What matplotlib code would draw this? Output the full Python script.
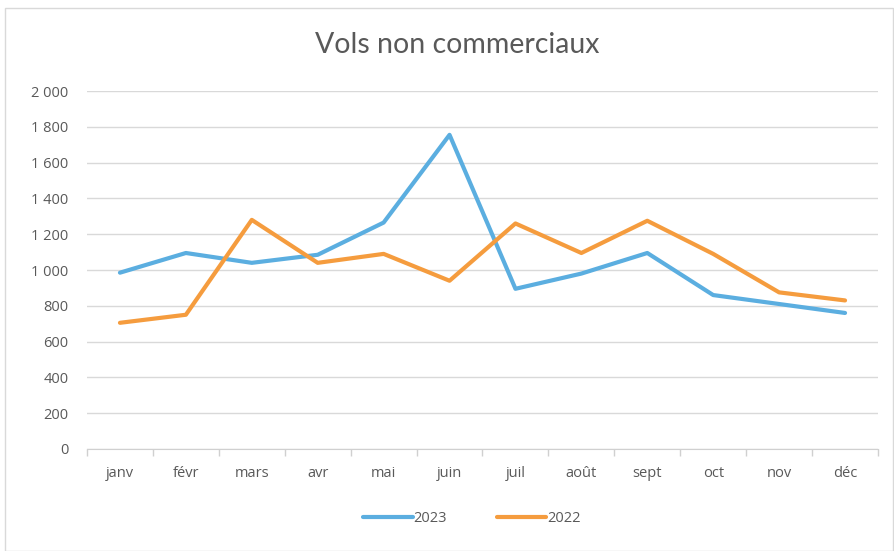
import matplotlib.pyplot as plt
from matplotlib.patches import Rectangle

plt.rcParams['font.family'] = ['Open Sans', 'DejaVu Sans']

# Data
months = ['janv', 'févr', 'mars', 'avr', 'mai', 'juin',
          'juil', 'août', 'sept', 'oct', 'nov', 'déc']
vols_2023 = [985, 1095, 1040, 1085, 1265, 1755, 895, 980, 1095, 860, 810, 760]
vols_2022 = [705, 750, 1280, 1040, 1090, 940, 1260, 1095, 1275, 1090, 875, 830]
y_ticks = [0, 200, 400, 600, 800, 1000, 1200, 1400, 1600, 1800, 2000]
y_labels = ['0', '200', '400', '600', '800', '1 000', '1 200',
            '1 400', '1 600', '1 800', '2 000']

W, H = 894, 551
fig = plt.figure(figsize=(W / 100, H / 100), dpi=100)
fig.patch.set_facecolor('white')

# outer chart border
fig.patches.append(Rectangle((5 / W, 0), (W - 6) / W, (H - 8) / H,
                             transform=fig.transFigure, fill=False,
                             edgecolor='#d9d9d9', linewidth=1))

ax = fig.add_axes([87 / W, 1 - 449 / H, (878 - 87) / W, (449 - 91) / H])

x = range(len(months))
ax.plot(x, vols_2023, color='#5BAEE0', linewidth=3, label='2023',
        solid_joinstyle='round', solid_capstyle='round')
ax.plot(x, vols_2022, color='#F59C3E', linewidth=3, label='2022',
        solid_joinstyle='round', solid_capstyle='round')

ax.set_xlim(-0.5, len(months) - 0.5)
ax.set_ylim(0, 2000)
ax.set_yticks(y_ticks)
ax.set_yticklabels(y_labels)
ax.set_xticks(list(x))
ax.set_xticklabels(months)

# category boundary ticks
ax.set_xticks([i - 0.5 for i in range(len(months) + 1)], minor=True)
ax.tick_params(axis='x', which='major', length=0, pad=12)
ax.tick_params(axis='x', which='minor', length=5, color='#d0d0d0', width=1)
ax.tick_params(axis='y', length=0, pad=13.5)
ax.tick_params(labelsize=10.5, labelcolor='#595959')

ax.grid(axis='y', color='#d9d9d9', linewidth=1)
ax.set_axisbelow(True)
for side in ['top', 'right', 'left']:
    ax.spines[side].set_visible(False)
ax.spines['bottom'].set_color('#d0d0d0')

fig.text(457 / W, 1 - 45 / H, 'Vols non commerciaux', ha='center', va='center',
         fontsize=20.5, color='#595959', family=['Lato', 'DejaVu Sans'])

ax.legend(loc='center', bbox_to_anchor=(472 / W, 1 - 519 / H),
          bbox_transform=fig.transFigure, ncol=2, frameon=False,
          fontsize=10.5, labelcolor='#595959', handlelength=3.4,
          handletextpad=0.05, columnspacing=3.4)

fig.savefig('out.png', dpi=100)
